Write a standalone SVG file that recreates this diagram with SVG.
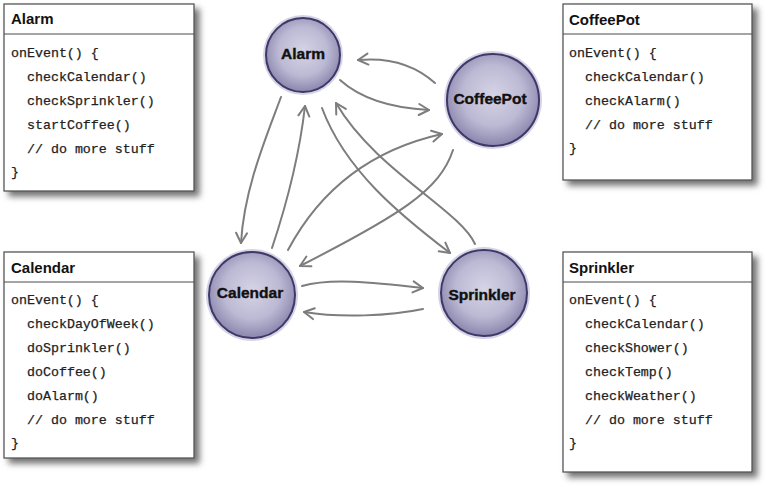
<svg xmlns="http://www.w3.org/2000/svg" width="768" height="489" viewBox="0 0 768 489">
<defs>
<style>
.box{fill:#fff;stroke:#4a4a4a;stroke-width:1.2}
.sep{stroke:#4a4a4a;stroke-width:1.2}
.title{font-family:"Liberation Sans",Arial,sans-serif;font-weight:bold;font-size:15px;fill:#111}
.code{font-family:"Liberation Mono","Courier New",monospace;font-size:13.3px;fill:#222;stroke:#222;stroke-width:0.25}
.node-label{font-family:"Liberation Sans",Arial,sans-serif;font-weight:bold;font-size:15.5px;fill:#111;text-anchor:middle;stroke:#111;stroke-width:0.4}
.ball{fill:url(#ballGrad);stroke:#3d3868;stroke-width:2}
.halo{fill:#c4c0da;opacity:0.7}
.conn{fill:none;stroke:#7d7d7d;stroke-width:2;stroke-linecap:round;marker-end:url(#arrow)}
</style>
<radialGradient id="ballGrad" cx="50%" cy="45%" r="55%">
<stop offset="0" stop-color="#d6d4e6"/>
<stop offset="0.6" stop-color="#bcb9d4"/>
<stop offset="1" stop-color="#8a86ad"/>
</radialGradient>
<filter id="shadow" x="-10%" y="-10%" width="130%" height="130%">
<feDropShadow dx="5" dy="5" stdDeviation="3" flood-color="#000" flood-opacity="0.55"/>
</filter>
<marker id="arrow" viewBox="0 0 14 14" refX="12" refY="7" markerWidth="14" markerHeight="14" markerUnits="userSpaceOnUse" orient="auto">
<path d="M2,1.5 L12,7 L2,12.5" fill="none" stroke="#7d7d7d" stroke-width="2" stroke-linecap="round" stroke-linejoin="round"/>
</marker>
</defs>
<rect width="768" height="489" fill="#fff"/>

<g id="box-alarm">
<rect class="box" x="4" y="4" width="190" height="187" filter="url(#shadow)"/>
<line class="sep" x1="4" y1="34" x2="194" y2="34"/>
<text class="title" x="11" y="24">Alarm</text>
<text class="code" x="11" y="57">onEvent() {</text>
<text class="code" x="27" y="81">checkCalendar()</text>
<text class="code" x="27" y="105">checkSprinkler()</text>
<text class="code" x="27" y="129">startCoffee()</text>
<text class="code" x="27" y="153">// do more stuff</text>
<text class="code" x="11" y="176">}</text>
</g>

<g id="box-calendar">
<rect class="box" x="4" y="252" width="190" height="206" filter="url(#shadow)"/>
<line class="sep" x1="4" y1="282" x2="194" y2="282"/>
<text class="title" x="11" y="273">Calendar</text>
<text class="code" x="11" y="304">onEvent() {</text>
<text class="code" x="27" y="328">checkDayOfWeek()</text>
<text class="code" x="27" y="352">doSprinkler()</text>
<text class="code" x="27" y="376">doCoffee()</text>
<text class="code" x="27" y="400">doAlarm()</text>
<text class="code" x="27" y="424">// do more stuff</text>
<text class="code" x="11" y="447">}</text>
</g>

<g id="box-coffeepot">
<rect class="box" x="563" y="4" width="189" height="176" filter="url(#shadow)"/>
<line class="sep" x1="563" y1="34" x2="752" y2="34"/>
<text class="title" x="569" y="25">CoffeePot</text>
<text class="code" x="569" y="57">onEvent() {</text>
<text class="code" x="585" y="81">checkCalendar()</text>
<text class="code" x="585" y="105">checkAlarm()</text>
<text class="code" x="585" y="129">// do more stuff</text>
<text class="code" x="569" y="152">}</text>
</g>

<g id="box-sprinkler">
<rect class="box" x="563" y="252" width="189" height="220" filter="url(#shadow)"/>
<line class="sep" x1="563" y1="282" x2="752" y2="282"/>
<text class="title" x="569" y="273">Sprinkler</text>
<text class="code" x="569" y="304">onEvent() {</text>
<text class="code" x="585" y="328">checkCalendar()</text>
<text class="code" x="585" y="352">checkShower()</text>
<text class="code" x="585" y="376">checkTemp()</text>
<text class="code" x="585" y="400">checkWeather()</text>
<text class="code" x="585" y="424">// do more stuff</text>
<text class="code" x="569" y="447">}</text>
</g>

<g id="connectors">
<path class="conn" d="M435,83 C415,65 390,57 358,60"/>
<path class="conn" d="M340,80 C360,98 390,108 429,110"/>
<path class="conn" d="M281,97 C265,140 244,190 241,243"/>
<path class="conn" d="M272,248 C288,200 300,150 305,106"/>
<path class="conn" d="M288,250 C320,190 370,150 442,134"/>
<path class="conn" d="M453,150 C440,190 400,215 300,266"/>
<path class="conn" d="M322,108 C345,170 400,215 450,253"/>
<path class="conn" d="M475,244 C460,210 375,170 336,103"/>
<path class="conn" d="M302,286 C330,278 370,282 423,288"/>
<path class="conn" d="M423,309 C390,316 340,318 304,312"/>
</g>

<g id="node-alarm">
<circle class="halo" cx="303" cy="55" r="40"/>
<circle class="ball" cx="303" cy="55" r="37"/>
<text class="node-label" x="303" y="59">Alarm</text>
</g>
<g id="node-coffeepot">
<circle class="halo" cx="493" cy="100" r="49"/>
<circle class="ball" cx="493" cy="100" r="46"/>
<text class="node-label" x="490" y="104">CoffeePot</text>
</g>
<g id="node-calendar">
<circle class="halo" cx="252" cy="295" r="46"/>
<circle class="ball" cx="252" cy="295" r="43"/>
<text class="node-label" x="250" y="298">Calendar</text>
</g>
<g id="node-sprinkler">
<circle class="halo" cx="484" cy="293" r="46"/>
<circle class="ball" cx="484" cy="293" r="43"/>
<text class="node-label" x="482" y="300">Sprinkler</text>
</g>
</svg>
